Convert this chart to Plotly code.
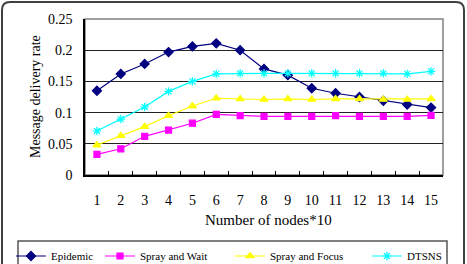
import plotly.graph_objects as go

categories = [str(i) for i in range(1, 16)]
epidemic = [0.135, 0.162, 0.178, 0.197, 0.206, 0.211, 0.200, 0.170, 0.160, 0.139, 0.131, 0.125, 0.119, 0.113, 0.108]
spray_wait = [0.033, 0.042, 0.062, 0.072, 0.083, 0.097, 0.095, 0.094, 0.094, 0.094, 0.095, 0.094, 0.094, 0.094, 0.0955]
spray_focus = [0.048, 0.063, 0.0775, 0.095, 0.1105, 0.123, 0.122, 0.121, 0.122, 0.121, 0.122, 0.122, 0.121, 0.121, 0.122]
dtsns = [0.0705, 0.0897, 0.109, 0.134, 0.150, 0.162, 0.163, 0.163, 0.163, 0.163, 0.163, 0.163, 0.163, 0.162, 0.166]

W, H = 467, 264
L, R, T, B = 85, 24, 19, 89
PW, PH = W - L - R, H - T - B

def px(x):
    return (x - L) / PW

def py(y):
    return (H - B - y) / PH

FONT = "Liberation Serif, Times New Roman, serif"

series = [
    ("Epidemic", epidemic, "#000080", "diamond", 7, "legend", 11),
    ("Spray and Wait", spray_wait, "#FF00FF", "square", 6, "legend2", 100),
    ("Spray and Focus", spray_focus, "#FFFF00", "triangle-up", 7, "legend3", 230),
    ("DTSNS", dtsns, "#00FFFF", "asterisk-open", 7, "legend4", 367),
]

fig = go.Figure()
legends = {}
for name, vals, color, sym, size, lg, lx in series:
    fig.add_trace(go.Scatter(
        x=categories, y=vals, name=name, mode="lines+markers",
        line=dict(color=color, width=1.2),
        marker=dict(symbol=sym, size=size, color=color, line=dict(color=color, width=1.2)),
        legend=lg,
    ))
    legends[lg] = dict(
        x=px(lx), y=py(256), xanchor="left", yanchor="middle",
        font=dict(family=FONT, size=11, color="black"),
        bgcolor="rgba(0,0,0,0)", borderwidth=0,
    )

r = 8
x0, x1, y0, y1 = 2, 464, 2, 280
path = (f"M {px(x0)} {py(y0 + r)} Q {px(x0)} {py(y0)} {px(x0 + r)} {py(y0)} "
        f"L {px(x1 - r)} {py(y0)} Q {px(x1)} {py(y0)} {px(x1)} {py(y0 + r)} "
        f"L {px(x1)} {py(y1)} L {px(x0)} {py(y1)} Z")

fig.update_layout(
    width=W, height=H,
    margin=dict(l=L, r=R, t=T, b=B, autoexpand=False),
    paper_bgcolor="white", plot_bgcolor="white",
    font=dict(family=FONT, color="black"),
    showlegend=True,
    **legends,
    shapes=[
        dict(type="path", xref="paper", yref="paper", path=path,
             line=dict(color="#404040", width=2), layer="below"),
        dict(type="rect", xref="paper", yref="paper", x0=0, x1=1, y0=0, y1=1,
             line=dict(color="#808080", width=1.5), layer="below"),
        dict(type="rect", xref="paper", yref="paper", x0=px(18), x1=px(447), y0=py(241), y1=py(275),
             line=dict(color="#555555", width=1.5), layer="below"),
    ],
    annotations=[
        dict(text="Number of nodes*10", xref="paper", yref="paper", x=px(268), y=py(220),
             xanchor="center", yanchor="middle", showarrow=False,
             font=dict(family=FONT, size=15, color="black")),
        dict(text="Message delivery rate", xref="paper", yref="paper", x=px(35), y=py(97),
             xanchor="center", yanchor="middle", showarrow=False, textangle=-90,
             font=dict(family=FONT, size=14, color="black")),
    ],
)

fig.update_xaxes(
    type="category", tickson="boundaries", ticks="inside", ticklen=4, tickcolor="black",
    showline=True, linecolor="black", linewidth=1.5, showgrid=False,
    tickfont=dict(family=FONT, size=14, color="black"), ticklabelstandoff=11,
    range=[-0.5, 14.5],
)
fig.update_yaxes(
    range=[0, 0.25], dtick=0.05, showgrid=True, gridcolor="#222222", gridwidth=1,
    showline=True, linecolor="black", linewidth=1.5, ticks="", zeroline=False,
    tickfont=dict(family=FONT, size=14, color="black"), ticklabelstandoff=8,
)

fig.write_html("out.html")
